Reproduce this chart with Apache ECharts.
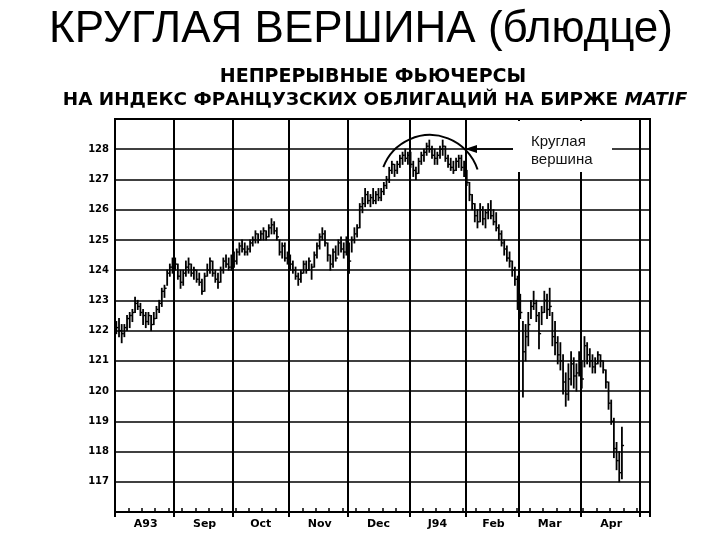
<!DOCTYPE html>
<html><head><meta charset="utf-8">
<script src="https://cdn.jsdelivr.net/npm/echarts@6/dist/echarts.min.js"></script>
<style>html,body{margin:0;padding:0;background:#fff}#c{width:720px;height:540px}</style>
</head><body><div id="c"></div>
<script>
// Month labels on the time axis and trading days in each month
const months = ['A93','Sep','Oct','Nov','Dec','J94','Feb','Mar','Apr','May'];
const monthDays = [22,22,21,22,23,21,20,23,22,4];
const monthLabelShown = [true,true,true,true,true,true,true,true,true,false];

// Daily bars: high / low / close (Aug 1993 - mid Apr 1994)
const high = [
 122.3,122.4,122.2,122.2,122.5,122.6,122.7,123.1,123.0,122.9,122.7,122.6,122.6,122.5,122.6,122.8,123.0,123.4,123.5,124.0,124.2,124.4,
 124.4,124.2,124.0,124.0,124.3,124.4,124.2,124.1,124.0,123.9,123.7,123.9,124.2,124.4,124.3,124.0,123.9,124.1,124.4,124.5,124.4,124.5,
 124.6,124.7,124.9,125.0,124.9,124.8,125.0,125.1,125.3,125.2,125.3,125.4,125.3,125.5,125.7,125.6,125.4,125.0,124.9,124.9,124.6,
 124.5,124.3,124.1,123.9,124.0,124.3,124.3,124.4,124.2,124.6,124.9,125.2,125.4,125.3,124.9,124.5,124.7,124.8,125.0,125.1,124.9,125.1,
 124.9,125.1,125.4,125.5,126.2,126.4,126.7,126.6,126.5,126.7,126.6,126.7,126.7,126.9,127.1,127.4,127.6,127.5,127.6,127.8,127.9,128.0,127.9,
 127.9,127.6,127.4,127.7,127.9,128.0,128.2,128.3,128.1,128.0,127.9,128.1,128.3,128.1,127.8,127.7,127.6,127.7,127.8,127.8,127.6,
 127.3,126.9,126.5,126.2,126.0,126.2,126.1,126.0,126.2,126.3,126.0,125.9,125.5,125.3,125.0,124.8,124.6,124.3,124.1,123.8,
 123.2,122.3,122.2,122.6,123.0,123.3,123.0,122.6,122.8,123.3,123.2,123.4,122.6,122.3,121.8,121.6,121.2,120.6,120.9,121.3,121.1,120.9,121.3,
 121.0,121.8,121.6,121.4,121.2,121.1,121.3,121.2,121.0,120.7,120.3,119.7,119.1,118.3,118.0,118.8
];
const low = [
 121.9,121.8,121.6,121.8,122.0,122.1,122.3,122.6,122.7,122.5,122.2,122.1,122.2,122.0,122.2,122.4,122.6,122.8,123.1,123.5,123.8,123.9,
 124.0,123.7,123.4,123.5,123.8,123.9,123.8,123.7,123.6,123.5,123.2,123.3,123.8,123.9,123.8,123.6,123.4,123.6,123.9,124.1,124.0,124.0,
 124.1,124.2,124.5,124.6,124.5,124.5,124.6,124.8,124.9,124.9,125.0,125.0,125.0,125.1,125.2,125.2,125.0,124.5,124.4,124.3,124.2,
 124.0,123.9,123.7,123.5,123.6,123.9,123.9,124.0,123.7,124.1,124.4,124.7,125.0,124.8,124.3,124.0,124.1,124.3,124.5,124.6,124.4,124.5,
 123.9,124.6,124.9,125.1,125.4,125.9,126.1,126.2,126.1,126.2,126.2,126.3,126.3,126.5,126.7,126.9,127.2,127.1,127.2,127.4,127.5,127.6,127.5,
 127.4,127.1,127.0,127.2,127.5,127.6,127.8,127.9,127.7,127.5,127.5,127.7,127.8,127.6,127.4,127.3,127.2,127.3,127.4,127.3,127.1,
 126.8,126.3,126.0,125.6,125.4,125.6,125.5,125.4,125.7,125.7,125.5,125.3,125.0,124.8,124.5,124.3,124.1,123.8,123.5,122.7,
 122.4,119.8,121.0,121.5,122.4,122.7,122.3,121.4,122.2,122.6,122.4,122.5,121.5,121.2,120.9,120.7,119.9,119.5,119.7,120.2,120.1,120.0,120.5,
 120.1,120.8,120.9,120.8,120.6,120.6,120.9,120.8,120.6,120.1,119.4,118.9,117.8,117.4,117.0,117.1
];
const close = [
 122.1,122.0,121.9,122.1,122.4,122.5,122.6,122.9,122.8,122.6,122.5,122.3,122.5,122.2,122.4,122.7,122.9,123.3,123.4,123.9,124.1,124.2,
 124.2,123.8,123.6,123.9,124.1,124.2,123.9,124.0,123.7,123.6,123.3,123.8,124.0,124.3,123.9,123.7,123.6,124.0,124.3,124.2,124.1,124.4,
 124.3,124.6,124.8,124.7,124.6,124.7,124.9,125.0,125.2,125.0,125.2,125.3,125.1,125.4,125.5,125.3,125.1,124.6,124.8,124.4,124.4,
 124.2,124.0,123.8,123.7,123.9,124.2,124.0,124.3,124.1,124.5,124.8,125.1,125.2,124.9,124.5,124.2,124.6,124.4,124.9,124.7,124.6,124.8,
 124.3,125.0,125.2,125.4,126.1,126.2,126.5,126.3,126.4,126.3,126.5,126.4,126.6,126.8,127.0,127.3,127.5,127.3,127.5,127.7,127.8,127.7,127.8,
 127.5,127.3,127.2,127.6,127.8,127.9,128.1,128.0,127.8,127.7,127.8,128.0,128.1,127.7,127.5,127.4,127.3,127.6,127.7,127.4,127.3,
 126.9,126.5,126.2,125.8,125.6,126.0,125.7,125.9,126.0,125.8,125.6,125.4,125.2,124.9,124.7,124.4,124.3,124.0,123.7,123.0,
 122.6,121.3,121.8,122.2,122.8,122.9,122.5,121.9,122.6,123.0,122.7,122.8,121.8,121.6,121.2,121.0,120.3,119.9,120.4,120.9,120.5,120.6,121.0,
 120.4,121.5,121.2,121.0,120.8,120.9,121.2,121.0,120.7,120.3,119.6,119.0,118.1,117.7,117.3,118.2
];

// Build category axis (one slot per trading day)
const categories = [];
const monthStart = new Set();
const monthMid = new Map();
months.forEach((m, k) => {
  monthStart.add(categories.length);
  if (monthLabelShown[k]) monthMid.set(categories.length + Math.round((monthDays[k] - 1) / 2), m);
  for (let d = 0; d < monthDays[k]; d++) categories.push(m + '-' + (d + 1));
});
const bars = high.map((h, i) => [i, h, low[i], close[i]]);

const chart = echarts.init(document.getElementById('c'));
const axisFont = { fontFamily: 'DejaVu Sans', fontWeight: 'bold', color: '#000' };

chart.setOption({
  backgroundColor: '#fff',
  animation: false,
  title: [{
    text: 'КРУГЛАЯ ВЕРШИНА (блюдце)', left: 44, top: 3,
    textStyle: { fontFamily: 'Liberation Sans', fontSize: 44, fontWeight: 'normal', color: '#000' }
  }],
  grid: { left: 115, right: 70, top: 119, bottom: 28, show: true, borderColor: '#000', borderWidth: 2, backgroundColor: 'transparent' },
  xAxis: [{
    type: 'category', data: categories, boundaryGap: true,
    axisLine: { show: true, lineStyle: { color: '#000', width: 2 } },
    axisTick: { show: true, interval: (i) => monthStart.has(i), length: 5, lineStyle: { color: '#000', width: 2 } },
    axisLabel: { interval: (i) => monthMid.has(i), formatter: (v) => v.split('-')[0], fontSize: 11, margin: 7, ...axisFont },
    splitLine: { show: true, interval: (i) => monthStart.has(i) && i > 0, lineStyle: { color: '#000', width: 2 } }
  }, {
    type: 'category', data: categories, boundaryGap: true, position: 'bottom',
    axisLine: { show: false },
    axisTick: { show: true, inside: true, interval: (i) => i % 5 === 0, length: 4, lineStyle: { color: '#000', width: 1.5 } },
    axisLabel: { show: false }, splitLine: { show: false }
  }],
  yAxis: {
    type: 'value', min: 116, max: 129, interval: 1,
    axisLine: { show: true, lineStyle: { color: '#000', width: 2 } },
    axisTick: { show: false },
    axisLabel: { showMinLabel: false, showMaxLabel: false, fontSize: 10, margin: 6, ...axisFont },
    splitLine: { show: true, lineStyle: { color: '#000', width: 1.5 } }
  },
  series: [{
    type: 'custom', xAxisIndex: 0, yAxisIndex: 0,
    data: bars, encode: { x: 0, y: [1, 2, 3] }, z: 5,
    renderItem: function (params, api) {
      const i = api.value(0);
      const h = api.coord([i, api.value(1)]);
      const l = api.coord([i, api.value(2)]);
      const c = api.coord([i, api.value(3)]);
      const bw = api.size([1, 0])[0];
      return { type: 'group', children: [
        { type: 'line', shape: { x1: h[0], y1: h[1] - 0.5, x2: l[0], y2: l[1] + 0.5 }, style: { stroke: '#000', lineWidth: 1.8 } },
        { type: 'line', shape: { x1: c[0], y1: c[1], x2: c[0] + bw * 0.8, y2: c[1] }, style: { stroke: '#000', lineWidth: 1.4 } }
      ] };
    }
  }],
  graphic: [
    { type: 'text', x: 373, y: 77, z: 100, style: { text: 'НЕПРЕРЫВНЫЕ ФЬЮЧЕРСЫ', fontFamily: 'DejaVu Sans', fontWeight: 'bold', fontSize: 19, fill: '#000', align: 'center', verticalAlign: 'middle' } },
    { type: 'text', x: 375, y: 100, z: 100, style: {
        text: '{a|НА ИНДЕКС ФРАНЦУЗСКИХ ОБЛИГАЦИЙ НА БИРЖЕ }{b|MATIF}', align: 'center', verticalAlign: 'middle',
        rich: { a: { fontFamily: 'DejaVu Sans', fontWeight: 'bold', fontSize: 18.4, fill: '#000' },
                b: { fontFamily: 'DejaVu Sans', fontWeight: 'bold', fontStyle: 'italic', fontSize: 18.4, fill: '#000' } } } },
    { type: 'arc', z: 100, shape: { cx: 430, cy: 185, r: 50, startAngle: -159 * Math.PI / 180, endAngle: -18 * Math.PI / 180, clockwise: true },
      style: { stroke: '#000', lineWidth: 2, fill: null } },
    { type: 'rect', z: 100, shape: { x: 513, y: 121, width: 99, height: 51 }, style: { fill: '#fff' } },
    { type: 'line', z: 101, shape: { x1: 474, y1: 149, x2: 513, y2: 149 }, style: { stroke: '#000', lineWidth: 1.5 } },
    { type: 'polygon', z: 101, shape: { points: [[465, 149], [477, 145], [477, 153]] }, style: { fill: '#000' } },
    { type: 'text', x: 531, y: 133, z: 101, style: { text: 'Круглая\nвершина', fontFamily: 'Liberation Sans', fontSize: 15, lineHeight: 18, fill: '#111' } }
  ]
});
</script></body></html>
